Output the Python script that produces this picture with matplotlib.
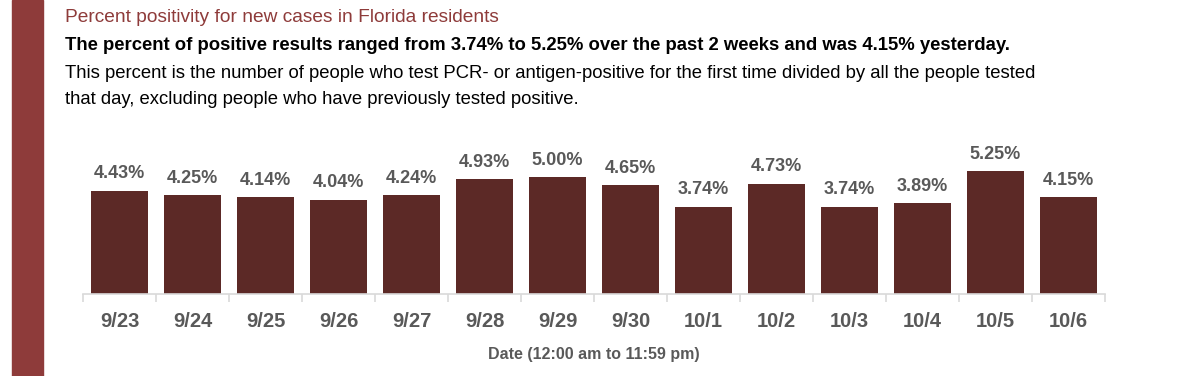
import matplotlib
matplotlib.use("Agg")
import matplotlib.pyplot as plt
from matplotlib.patches import Rectangle
import numpy as np

dates = ["9/23", "9/24", "9/25", "9/26", "9/27", "9/28", "9/29", "9/30",
         "10/1", "10/2", "10/3", "10/4", "10/5", "10/6"]
positivity = [4.43, 4.25, 4.14, 4.04, 4.24, 4.93, 5.00, 4.65,
              3.74, 4.73, 3.74, 3.89, 5.25, 4.15]

title = "Percent positivity for new cases in Florida residents"
summary = ("The percent of positive results ranged from 3.74% to 5.25% "
           "over the past 2 weeks and was 4.15% yesterday.")
note1 = ("This percent is the number of people who test PCR- or antigen-positive "
         "for the first time divided by all the people tested")
note2 = "that day, excluding people who have previously tested positive."
xlabel = "Date (12:00 am to 11:59 pm)"

BAR = "#5C2926"
ACCENT = "#8E3B3A"
GRAY = "#595959"
plt.rcParams["font.family"] = ["Liberation Sans", "DejaVu Sans"]

fig = plt.figure(figsize=(12, 3.76), dpi=100)
# left accent band
fig.patches.append(Rectangle((12/1200, 0), 31/1200, 1, transform=fig.transFigure,
                             color=ACCENT, zorder=0))

fig.text(65/1200, 1 - 18/376, title, color=ACCENT, fontsize=13.8, va="center")
fig.text(65/1200, 1 - 46/376, summary, color="black", fontsize=13.3, va="center",
         weight="bold")
fig.text(65/1200, 1 - 73/376, note1, color="black", fontsize=13.3, va="center")
fig.text(65/1200, 1 - 100/376, note2, color="black", fontsize=13.3, va="center")

ax = fig.add_axes([83/1200, (376-294.3)/376, 1022/1200, 140.4/376])
x = np.arange(len(dates))
ax.bar(x, positivity, width=0.77, color=BAR, zorder=2)
for xi, v in zip(x, positivity):
    ax.annotate(f"{v:.2f}%", (xi, v), xytext=(0, 6), textcoords="offset points",
                ha="center", va="bottom", fontsize=13, color=GRAY, weight="bold")
ax.set_xlim(-0.5, len(dates) - 0.5)
ax.set_ylim(0, 6)
ax.set_yticks([])
for s in ["top", "right", "left"]:
    ax.spines[s].set_visible(False)
ax.spines["bottom"].set_color("#d9d9d9")
ax.spines["bottom"].set_linewidth(1.2)
ax.set_xticks(x)
ax.set_xticklabels(dates, fontsize=14.5, color=GRAY, weight="bold")
ax.tick_params(axis="x", which="major", length=0, pad=13)
ax.set_xticks(np.arange(-0.5, len(dates)), minor=True)
ax.tick_params(axis="x", which="minor", length=6, color="#d9d9d9", width=1.2)
ax.set_xlabel(xlabel, fontsize=11.5, color=GRAY, weight="bold", labelpad=11)

fig.savefig("out.png", dpi=100)
